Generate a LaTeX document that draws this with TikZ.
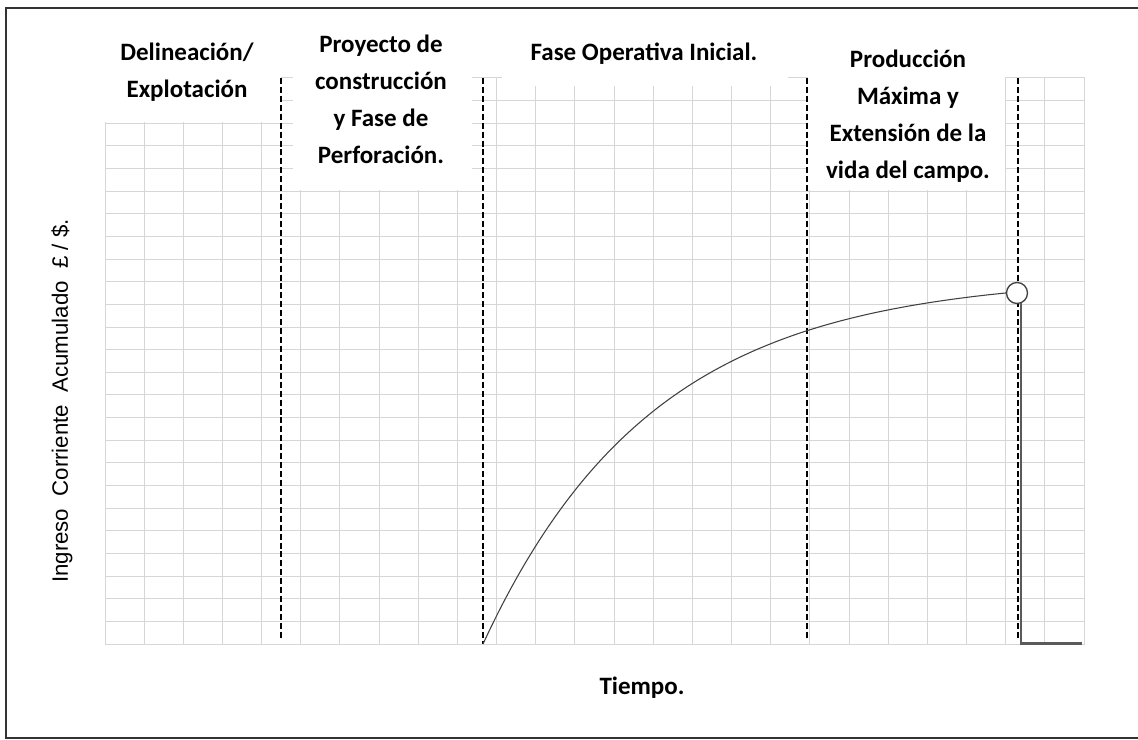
\documentclass[tikz,border=0pt]{standalone}
\usepackage{fontspec}
\setmainfont{Carlito}
\newfontfamily\arialfont{Liberation Sans}

\definecolor{gridgray}{HTML}{D6D6D6}
\definecolor{inkgray}{HTML}{404040}
\definecolor{fallgray}{HTML}{5A5A5A}

\tikzset{
  frame/.style={draw=black!80, line width=1.5pt},
  gridline/.style={draw=gridgray, line width=0.75pt},
  cover/.style={fill=white},
  phase/.style={draw=black, line width=0.8pt, dash pattern=on 4.5pt off 2.2pt},
  curve/.style={draw=inkgray, line width=0.8pt},
  fall/.style={draw=fallgray, line width=1.6pt},
  peakdot/.style={circle, draw=inkgray, fill=white, line width=1pt, minimum size=15.75pt, inner sep=0pt},
  phaselabel/.style={font=\fontsize{18.75}{27.75}\selectfont\bfseries, align=center, inner sep=0pt},
  axislabel/.style={font=\arialfont\fontsize{16.7}{20}\selectfont, inner sep=0pt}
}

\begin{document}
\begin{tikzpicture}[x=0.75pt,y=0.75pt]
  \useasboundingbox (0,0) rectangle (1138,739);
  \draw[frame] (6,731) rectangle (1160,1.5);

  % grid, 25 x 25 cells
  \begin{scope}[shift={(105,95)}]
    \draw[gridline] (0,0) grid[xstep=39.16,ystep=22.64] (979.5,566.5);
  \end{scope}

  % white boxes behind the phase titles
  \fill[cover] (103,617) rectangle (280.5,665);
  \fill[cover] (293,549) rectangle (472,665);
  \fill[cover] (502,653) rectangle (788,665);
  \fill[cover] (807.5,549) rectangle (1005,665);

  % phase limits
  \coordinate (start) at (483,95);
  \coordinate (tail) at (1082,95.5);
  \draw[phase] (281,661) coordinate (d1) -- (281,99);
  \draw[phase] (483,661) coordinate (d2) -- (start);
  \draw[phase] (807,661) coordinate (d3) -- (807,99);
  \draw[phase] (1018,661) coordinate (d4) -- (1018,99);

  % income curve
  \node[peakdot] (peak) at (1017,446) {};
  \draw[curve] (start) -- plot[domain=483:1006.5, samples=80, smooth, variable=\x]
    ({\x}, {95+368*(1-exp(-(\x-483)/170))}) -- (peak.west);
  \draw[fall] (peak.-68) -- (peak.-68 |- tail) -- (tail);

  % labels
  \node[phaselabel] (delin) at (187,667) {Delineación/\\Explotación};
  \node[phaselabel] (proyecto) at (381,640) {Proyecto de\\construcción\\y Fase de\\Perforación.};
  \node[phaselabel] (faseop) at (644,685) {Fase Operativa Inicial.};
  \node[phaselabel] (produccion) at (908,623) {Producción\\Máxima y\\Extensión de la\\vida del campo.};
  \node[phaselabel] (tiempo) at (642,51) {Tiempo.};
  \node[axislabel, rotate=90] (ylabel) at (62,338) {Ingreso~~Corriente~~Acumulado~~£ / \$.};
\end{tikzpicture}
\end{document}
